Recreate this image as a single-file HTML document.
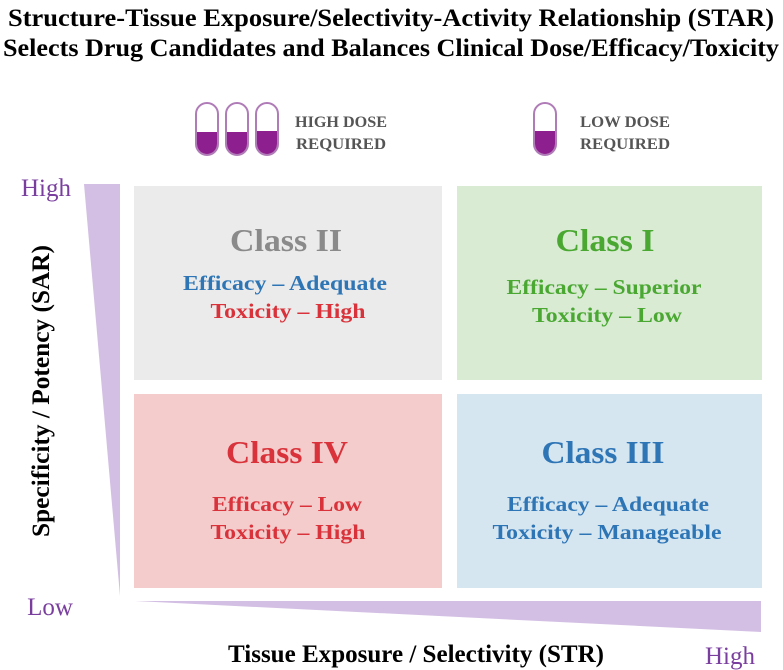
<!DOCTYPE html>
<html><head><meta charset="utf-8"><style>
html,body{margin:0;padding:0;background:#fff;width:783px;height:670px;overflow:hidden}
text{font-family:"Liberation Serif",serif}
</style></head><body>
<svg width="783" height="670" viewBox="0 0 783 670" xmlns="http://www.w3.org/2000/svg">
<text x="391" y="26" text-anchor="middle" font-size="25" font-weight="bold" textLength="766" lengthAdjust="spacingAndGlyphs">Structure-Tissue Exposure/Selectivity-Activity Relationship (STAR)</text>
<text x="391" y="56" text-anchor="middle" font-size="25" font-weight="bold" textLength="776" lengthAdjust="spacingAndGlyphs">Selects Drug Candidates and Balances Clinical Dose/Efficacy/Toxicity</text>

<g stroke="#b07cb8" stroke-width="2">
<rect x="196" y="103" width="22" height="52" rx="11" fill="#fff"/>
<path d="M197 132 H217 V144 A10 10 0 0 1 197 144 Z" fill="#8e1f8e" stroke="none"/>
<rect x="226" y="103" width="22" height="52" rx="11" fill="#fff"/>
<path d="M227 132 H247 V144 A10 10 0 0 1 227 144 Z" fill="#8e1f8e" stroke="none"/>
<rect x="256" y="103" width="22" height="52" rx="11" fill="#fff"/>
<path d="M257 131 H277 V144 A10 10 0 0 1 257 144 Z" fill="#8e1f8e" stroke="none"/>
</g>
<text x="341" y="127" text-anchor="middle" font-size="16" font-weight="bold" fill="#555" textLength="92" lengthAdjust="spacingAndGlyphs">HIGH DOSE</text>
<text x="341" y="149" text-anchor="middle" font-size="16" font-weight="bold" fill="#555" textLength="90" lengthAdjust="spacingAndGlyphs">REQUIRED</text>
<g stroke="#b07cb8" stroke-width="2">
<rect x="534" y="103" width="22" height="52" rx="11" fill="#fff"/>
<path d="M535 131 H555 V144 A10 10 0 0 1 535 144 Z" fill="#8e1f8e" stroke="none"/>
</g>
<text x="625" y="127" text-anchor="middle" font-size="16" font-weight="bold" fill="#555" textLength="90" lengthAdjust="spacingAndGlyphs">LOW DOSE</text>
<text x="625" y="149" text-anchor="middle" font-size="16" font-weight="bold" fill="#555" textLength="90" lengthAdjust="spacingAndGlyphs">REQUIRED</text>

<text x="46" y="196" text-anchor="middle" font-size="25" fill="#7a3f9e">High</text>
<polygon points="84,184 120,184 120,596" fill="#d3bfe3"/>
<text transform="translate(49,391) rotate(-90)" text-anchor="middle" font-size="25" font-weight="bold" textLength="292" lengthAdjust="spacingAndGlyphs">Specificity / Potency (SAR)</text>
<text x="50" y="615" text-anchor="middle" font-size="25" fill="#7a3f9e">Low</text>
<polygon points="135,601 761,601 761,632" fill="#d3bfe3"/>
<text x="416" y="662" text-anchor="middle" font-size="25" font-weight="bold" textLength="376" lengthAdjust="spacingAndGlyphs">Tissue Exposure / Selectivity (STR)</text>
<text x="730" y="664" text-anchor="middle" font-size="25" fill="#7a3f9e">High</text>

<g font-weight="bold" text-anchor="middle" lengthAdjust="spacingAndGlyphs">
<rect x="134" y="186" width="308" height="194" fill="#ebebeb"/>
<text x="286" y="251" font-size="32" fill="#8a8a8a" textLength="112" lengthAdjust="spacingAndGlyphs">Class II</text>
<text x="285" y="290" font-size="21" fill="#2e75b6" textLength="204" lengthAdjust="spacingAndGlyphs">Efficacy – Adequate</text>
<text x="288" y="318" font-size="21" fill="#d9323a" textLength="155" lengthAdjust="spacingAndGlyphs">Toxicity – High</text>
</g>
<g font-weight="bold" text-anchor="middle">
<rect x="457" y="186" width="305" height="194" fill="#d9ecd3"/>
<text x="605" y="251" font-size="32" fill="#4aa832" textLength="99" lengthAdjust="spacingAndGlyphs">Class I</text>
<text x="604" y="294" font-size="21" fill="#4aa832" textLength="195" lengthAdjust="spacingAndGlyphs">Efficacy – Superior</text>
<text x="607" y="322" font-size="21" fill="#4aa832" textLength="150" lengthAdjust="spacingAndGlyphs">Toxicity – Low</text>
</g>
<g font-weight="bold" text-anchor="middle">
<rect x="134" y="394" width="308" height="194" fill="#f4cccc"/>
<text x="287" y="463" font-size="32" fill="#d9323a" textLength="122" lengthAdjust="spacingAndGlyphs">Class IV</text>
<text x="287" y="511" font-size="21" fill="#d9323a" textLength="150" lengthAdjust="spacingAndGlyphs">Efficacy – Low</text>
<text x="288" y="539" font-size="21" fill="#d9323a" textLength="155" lengthAdjust="spacingAndGlyphs">Toxicity – High</text>
</g>
<g font-weight="bold" text-anchor="middle">
<rect x="457" y="394" width="305" height="194" fill="#d6e6f1"/>
<text x="603" y="463" font-size="32" fill="#2e75b6" textLength="123" lengthAdjust="spacingAndGlyphs">Class III</text>
<text x="608" y="511" font-size="21" fill="#2e75b6" textLength="202" lengthAdjust="spacingAndGlyphs">Efficacy – Adequate</text>
<text x="607" y="539" font-size="21" fill="#2e75b6" textLength="229" lengthAdjust="spacingAndGlyphs">Toxicity – Manageable</text>
</g>
</svg>
</body></html>
